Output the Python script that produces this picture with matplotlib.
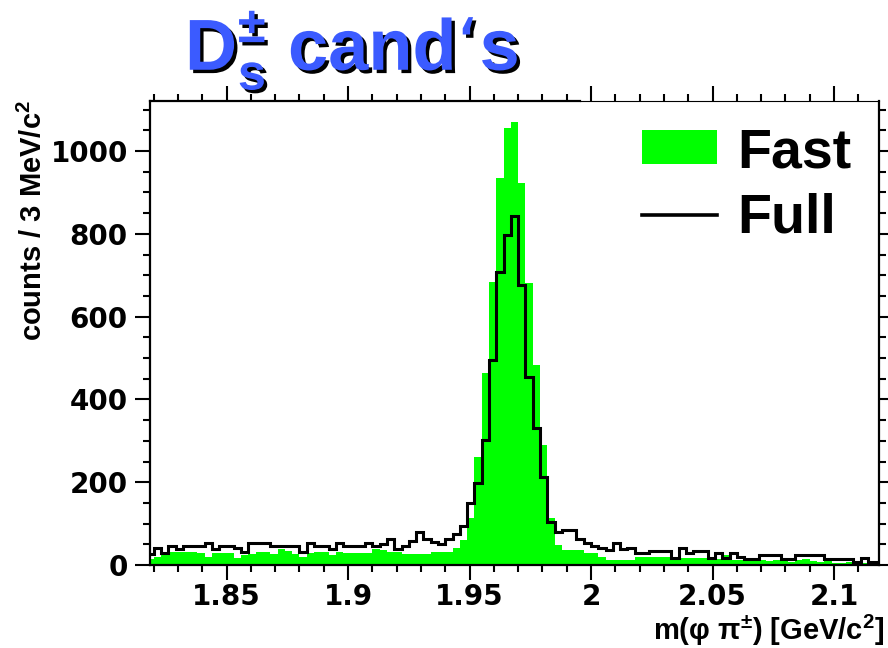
import numpy as np
import matplotlib
matplotlib.use("Agg")
import matplotlib.pyplot as plt
import matplotlib.patheffects as pe
from matplotlib.patches import Patch
from matplotlib.lines import Line2D
from matplotlib.ticker import MultipleLocator, FuncFormatter

plt.rcParams["font.family"] = ["Liberation Sans", "DejaVu Sans"]
plt.rcParams["font.weight"] = "bold"

# binning: 3 MeV bins, first (partly visible) bin starts at 1.817 GeV
BIN_START = 1.817
BIN_WIDTH = 0.003

# full reconstruction (black line)
full_counts = [
    27,
    40, 30, 47, 38, 47, 47, 47, 52, 38, 47,
    47, 42, 32, 52, 52, 52, 47, 47, 47, 47,
    32, 52, 47, 47, 38, 52, 47, 47, 47, 52,
    47, 50, 63, 38, 47, 59, 79, 63, 56, 51,
    64, 76, 93, 149, 197, 302, 495, 708, 797, 843,
    676, 455, 330, 213, 105, 80, 85, 85, 64, 52,
    46, 42, 36, 52, 38, 40, 28, 28, 35, 35,
    35, 16, 40, 28, 35, 35, 16, 28, 16, 28,
    20, 15, 15, 23, 23, 23, 15, 15, 24, 24,
    24, 24, 15, 15, 15, 15, 8, 16, 8, 8,
]

# fast simulation (green filled)
fast_counts = [
    14,
    20, 25, 32, 32, 32, 32, 28, 20, 28, 28,
    28, 18, 24, 27, 32, 32, 27, 38, 33, 27,
    20, 28, 32, 32, 24, 32, 30, 28, 28, 28,
    38, 36, 32, 32, 27, 27, 27, 27, 32, 32,
    32, 40, 60, 113, 262, 463, 684, 934, 1055, 1071,
    922, 680, 483, 290, 113, 48, 36, 36, 36, 28,
    28, 20, 12, 12, 12, 12, 20, 20, 20, 20,
    20, 20, 18, 18, 18, 18, 15, 15, 24, 12,
    12, 10, 14, 12, 10, 12, 10, 8, 12, 14,
    10, 8, 10, 6, 6, 8, 6, 4, 6, 6,
]

legend_labels = ["Fast", "Full"]

X_MIN, X_MAX = 1.8185, 2.1185
Y_MAX = 1122

GREEN = "#00ff00"
BLUE = "#3b5bff"

edges = BIN_START + BIN_WIDTH * np.arange(len(full_counts) + 1)

fig = plt.figure(figsize=(8.88, 6.48), dpi=100)
ax = fig.add_axes([150 / 888, 1 - 565 / 648, 729 / 888, 464.5 / 648])

ax.stairs(fast_counts, edges, fill=True, color=GREEN, baseline=0)
ax.stairs(full_counts, edges, color="black", linewidth=2.2, baseline=None)

ax.set_xlim(X_MIN, X_MAX)
ax.set_ylim(0, Y_MAX)

ax.xaxis.set_major_locator(MultipleLocator(0.05))
ax.xaxis.set_minor_locator(MultipleLocator(0.01))
ax.yaxis.set_major_locator(MultipleLocator(200))
ax.yaxis.set_minor_locator(MultipleLocator(50))
ax.xaxis.set_major_formatter(FuncFormatter(lambda v, p: f"{v:g}"))

ax.tick_params(which="both", direction="out", width=1.5, top=True, right=True,
               labelsize=20, labelfontfamily="DejaVu Sans")
ax.tick_params(which="major", length=11)
ax.tick_params(which="minor", length=5)
ax.tick_params(axis="x", pad=2)
ax.tick_params(axis="y", pad=5)

for side in ["left", "bottom", "right", "top"]:
    ax.spines[side].set_linewidth(1.6)
# top frame is thick only up to the legend region, thin beyond
ax.spines["top"].set_bounds(X_MIN, 1.9955)
ax.plot([1.9955, X_MAX], [1, 1], transform=ax.get_xaxis_transform(),
        color="black", linewidth=0.8, clip_on=False)

# axis titles, ROOT style (right/top aligned)
fig.text(885 / 888, 1 - 630 / 648, r"m(φ π$^{\mathregular{\pm}}$) [GeV/c$^{\mathregular{2}}$]",
         ha="right", va="center", fontsize=21)
fig.text(33 / 888, 1 - 100 / 648, r"counts / 3 MeV/c$^{\mathregular{2}}$",
         rotation=90, ha="center", va="top", fontsize=21)

# title with drop shadow
fig.text(185 / 888, 1 - 70 / 648, r"D$_{\mathregular{s}}^{\mathregular{\pm}}$ cand‘s",
         ha="left", va="baseline", fontsize=52, color=BLUE,
         path_effects=[pe.withSimplePatchShadow(offset=(2.4, -2.4),
                                                shadow_rgbFace="black", alpha=1.0)])

handles = [Patch(facecolor=GREEN, edgecolor="none"),
           Line2D([0], [0], color="black", linewidth=2.6)]
ax.legend(handles, legend_labels, loc="upper left",
          bbox_to_anchor=(642 / 888, 1 - 127 / 648), bbox_transform=fig.transFigure,
          frameon=False, fontsize=40, borderpad=0, handlelength=1.35,
          handleheight=0.56, handletextpad=0.36, labelspacing=0.25,
          borderaxespad=0)

fig.savefig("out.png", dpi=100)
